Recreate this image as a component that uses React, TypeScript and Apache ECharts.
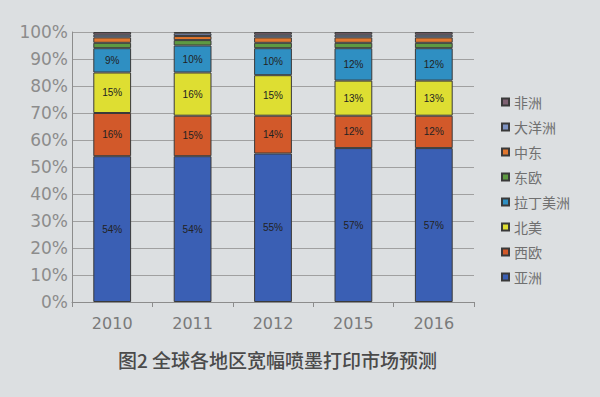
import React, { useEffect, useRef } from "react";
import * as echarts from "echarts";

const years = ["2010", "2011", "2012", "2015", "2016"];
const yTicks = [0, 10, 20, 30, 40, 50, 60, 70, 80, 90, 100];

// Regional shares of wide-format inkjet printing (%)
const asia = [54, 54, 55, 57, 57];
const westEurope = [16, 15, 14, 12, 12];
const northAmerica = [15, 16, 15, 13, 13];
const latinAmerica = [9, 10, 10, 12, 12];
const eastEurope = [2, 2, 2, 2, 2];
const middleEast = [2, 1.5, 2, 2, 2];
const oceania = [1, 1, 1, 1, 1];
const africa = [1, 0.5, 1, 1, 1];

const regionNames = ["亚洲", "西欧", "北美", "拉丁美洲", "东欧", "中东", "大洋洲", "非洲"];
const regionColors = ["#3a5fb4", "#d2592a", "#dede32", "#2f8fc2", "#5e9a42", "#e0762e", "#7d92c2", "#7e6172"];
const labelled = [true, true, true, true, false, false, false, false];

export default function App() {
  const ref = useRef<HTMLDivElement>(null);

  useEffect(() => {
    if (!ref.current) return;
    const chart = echarts.init(ref.current, null, { renderer: "svg" });
    const values = [asia, westEurope, northAmerica, latinAmerica, eastEurope, middleEast, oceania, africa];

    const series = values.map((data, i) => ({
      name: regionNames[i],
      type: "bar" as const,
      stack: "share",
      barWidth: "47%",
      data,
      itemStyle: { color: regionColors[i], borderColor: "#3a3a3a", borderWidth: 1 },
      label: {
        show: labelled[i],
        position: "inside" as const,
        formatter: "{c}%",
        fontSize: 10,
        color: "#222",
        fontFamily: "Liberation Sans, Arial, sans-serif",
      },
    }));

    chart.setOption({
      animation: false,
      backgroundColor: "#dcdfe1",
      grid: { left: 72, top: 32, width: 402, height: 270 },
      legend: {
        orient: "vertical",
        left: 496,
        top: 90,
        itemWidth: 7,
        itemHeight: 7,
        itemGap: 11,
        data: [...regionNames].reverse(),
        textStyle: { fontSize: 14, color: "#707070", fontFamily: "Noto Sans CJK SC, sans-serif" },
        icon: "rect",
      },
      xAxis: {
        type: "category",
        data: years,
        axisLine: { lineStyle: { color: "#8c8c8c" } },
        axisTick: { show: true, lineStyle: { color: "#8c8c8c" } },
        axisLabel: { fontSize: 16, color: "#7a7a7a", margin: 13, fontFamily: "DejaVu Sans, sans-serif" },
      },
      yAxis: {
        type: "value",
        min: yTicks[0],
        max: yTicks[yTicks.length - 1],
        interval: 10,
        axisLine: { show: true, lineStyle: { color: "#8c8c8c" } },
        axisLabel: { formatter: "{value}%", fontSize: 17, color: "#8c8c8c", margin: 4, fontFamily: "DejaVu Sans, sans-serif" },
        splitLine: { lineStyle: { color: "#a0a0a0" } },
      },
      graphic: [
        {
          type: "text",
          left: 118,
          top: 350,
          style: {
            text: "图2 全球各地区宽幅喷墨打印市场预测",
            fontSize: 19,
            fontWeight: 500,
            fill: "#4a4a4a",
            fontFamily: "Noto Sans CJK SC, sans-serif",
          },
        },
      ],
      series,
    });

    return () => chart.dispose();
  }, []);

  return <div ref={ref} style={{ position: "fixed", left: 0, top: 0, width: 600, height: 397 }} />;
}
